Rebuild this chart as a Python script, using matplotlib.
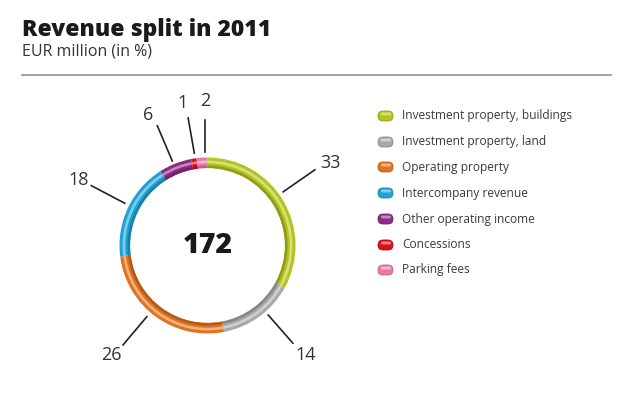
import matplotlib
matplotlib.use("Agg")
import matplotlib.pyplot as plt
from matplotlib.patches import FancyBboxPatch
import matplotlib.colors as mcolors
import numpy as np

# Revenue split data
categories = [
    "Investment property, buildings",
    "Investment property, land",
    "Operating property",
    "Intercompany revenue",
    "Other operating income",
    "Concessions",
    "Parking fees",
]
shares = [33, 14, 26, 18, 6, 1, 2]
total_revenue = 172
colors = ["#b3c41c", "#a9a9a9", "#e07320", "#1ea3d6", "#8d2a83", "#d5121e", "#e77aa9"]

# label placement (pie units: 1 = outer radius), line start, line end, text position
label_geom = [
    ((0.86, 0.61), (1.22, 0.86), (1.40, 0.94)),
    ((0.69, -0.79), (0.97, -1.11), (1.12, -1.24)),
    ((-0.69, -0.81), (-0.96, -1.13), (-1.09, -1.24)),
    ((-0.94, 0.48), (-1.32, 0.68), (-1.47, 0.74)),
    ((-0.40, 0.96), (-0.57, 1.36), (-0.67, 1.48)),
    ((-0.15, 1.05), (-0.22, 1.45), (-0.28, 1.62)),
    ((-0.03, 1.06), (-0.03, 1.43), (-0.03, 1.64)),
]

W, H = 620, 393
fig = plt.figure(figsize=(W / 100, H / 100), dpi=100)
fig.patch.set_facecolor("white")
font = "Open Sans"
text_col = "#333333"

# Header
fig.text(22 / W, 1 - 30 / H, "Revenue split in 2011", fontsize=16.5, fontweight=800,
         family=font, color="#1a1a1a", va="center", ha="left")
fig.text(22 / W, 1 - 52 / H, "EUR million (in %)", fontsize=11.5,
         family=font, color=text_col, va="center", ha="left")
fig.add_artist(plt.Line2D([22 / W, 611 / W], [1 - 75 / H, 1 - 75 / H],
                          color="#9a9a9a", lw=1.3, transform=fig.transFigure))

# Ring chart
cx, cy, R = 207.5, 245.5, 88
ax = fig.add_axes([(cx - R) / W, 1 - (cy + R) / H, 2 * R / W, 2 * R / H])
ring_w = 0.12
ax.pie(shares, colors=colors, startangle=90, counterclock=False, radius=1.0,
       wedgeprops=dict(width=ring_w, linewidth=0))
# tube shading: light highlight and darker inner band
light = [mcolors.to_hex(0.55 * np.array(mcolors.to_rgb(c)) + 0.45) for c in colors]
dark = [mcolors.to_hex(0.8 * np.array(mcolors.to_rgb(c))) for c in colors]
ax.pie(shares, colors=light, startangle=90, counterclock=False, radius=0.965,
       wedgeprops=dict(width=0.03, linewidth=0))
ax.pie(shares, colors=dark, startangle=90, counterclock=False, radius=0.91,
       wedgeprops=dict(width=0.03, linewidth=0))
ax.set_xlim(-1, 1)
ax.set_ylim(-1, 1)
ax.set_aspect("equal")
ax.axis("off")

ax.text(0, 0, str(total_revenue), fontsize=20.5, fontweight=800, family=font,
        color="#1a1a1a", ha="center", va="center")

for val, (p0, p1, pt) in zip(shares, label_geom):
    ax.plot([p0[0], p1[0]], [p0[1], p1[1]], color="#222222", lw=1.2, clip_on=False)
    ax.text(pt[0], pt[1], str(val), fontsize=13, family=font, color=text_col,
            ha="center", va="center", clip_on=False)

# Legend
leg_ax = fig.add_axes([0, 0, 1, 1])
leg_ax.set_xlim(0, W)
leg_ax.set_ylim(H, 0)
leg_ax.axis("off")
row_y = [116, 142, 167, 193, 219, 245, 270]
for name, c, lc, dc, y in zip(categories, colors, light, dark, row_y):
    leg_ax.add_patch(FancyBboxPatch((378, y - 5), 15, 10,
                                    boxstyle="round,pad=0,rounding_size=5",
                                    fc=c, ec=dc, lw=0.6))
    leg_ax.add_patch(FancyBboxPatch((381, y - 3.5), 10, 3,
                                    boxstyle="round,pad=0,rounding_size=1.4",
                                    fc=lc, ec="none"))
    leg_ax.text(402, y, name, fontsize=8.6, family=font, color="#3a3a3a",
                ha="left", va="center")

fig.savefig("out.png", dpi=100, facecolor="white")
